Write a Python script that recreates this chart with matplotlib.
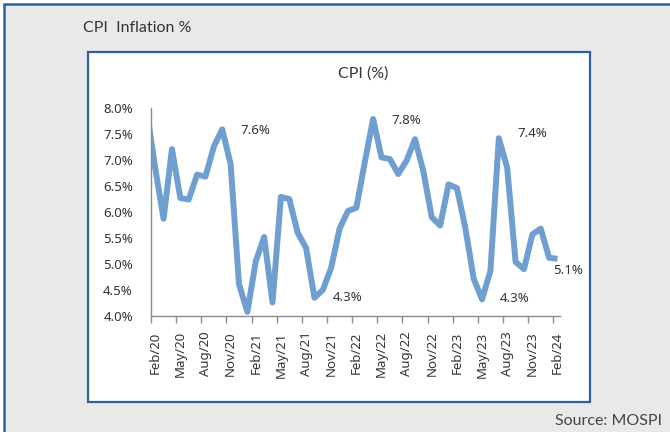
import matplotlib
matplotlib.use("Agg")
import matplotlib.pyplot as plt
from matplotlib.patches import Rectangle

# monthly CPI inflation (%), Jan/20 .. Feb/24 (Jan/20 sits just left of the axis and is clipped)
months = ["Jan/20", "Feb/20", "Mar/20", "Apr/20", "May/20", "Jun/20", "Jul/20", "Aug/20", "Sep/20", "Oct/20",
          "Nov/20", "Dec/20", "Jan/21", "Feb/21", "Mar/21", "Apr/21", "May/21", "Jun/21", "Jul/21", "Aug/21",
          "Sep/21", "Oct/21", "Nov/21", "Dec/21", "Jan/22", "Feb/22", "Mar/22", "Apr/22", "May/22", "Jun/22",
          "Jul/22", "Aug/22", "Sep/22", "Oct/22", "Nov/22", "Dec/22", "Jan/23", "Feb/23", "Mar/23", "Apr/23",
          "May/23", "Jun/23", "Jul/23", "Aug/23", "Sep/23", "Oct/23", "Nov/23", "Dec/23", "Jan/24", "Feb/24"]
cpi = [7.95, 6.85, 5.87, 7.21, 6.27, 6.24, 6.72, 6.68, 7.26, 7.59,
       6.92, 4.61, 4.08, 5.05, 5.52, 4.26, 6.29, 6.25, 5.60, 5.31,
       4.35, 4.50, 4.93, 5.68, 6.02, 6.08, 6.95, 7.79, 7.05, 7.02,
       6.73, 6.99, 7.40, 6.78, 5.90, 5.74, 6.53, 6.46, 5.70, 4.72,
       4.32, 4.87, 7.42, 6.85, 5.04, 4.90, 5.57, 5.68, 5.12, 5.10]
tick_labels = ["Feb/20", "May/20", "Aug/20", "Nov/20", "Feb/21", "May/21", "Aug/21", "Nov/21", "Feb/22",
               "May/22", "Aug/22", "Nov/22", "Feb/23", "May/23", "Aug/23", "Nov/23", "Feb/24"]
y_ticks = [4.0, 4.5, 5.0, 5.5, 6.0, 6.5, 7.0, 7.5, 8.0]
# labelled points and where their text goes (pixel offsets)
callouts = [("Oct/20", 33, -1), ("Sep/21", 33, 0), ("Apr/22", 33, -2),
            ("May/23", 33, 1), ("Jul/23", 33, 5), ("Feb/24", 11, -12)]

LINE = "#6f9fd0"
BORDER = "#2d619e"
TXT = "#333333"

fig = plt.figure(figsize=(6.7, 4.32), dpi=100, facecolor="white")

# outer grey panel, border only shows on top and left
fig.add_artist(Rectangle((4 / 670, -0.5), 2.0, 1.5 - 4 / 432, transform=fig.transFigure,
                         facecolor="#e9e9e9", edgecolor=BORDER, lw=1.8, clip_on=False, zorder=-3))
# inner white chart box
fig.add_artist(Rectangle((88 / 670, 1 - 401.7 / 432), (590 - 88) / 670, (401.7 - 51.5) / 432,
                         transform=fig.transFigure, facecolor="white", edgecolor=BORDER, lw=1.6,
                         zorder=-2))

fig.text(83 / 670, 1 - 28.5 / 432, "CPI  Inflation %", fontsize=11.5, family="Lato",
         color=TXT, ha="left", va="center")
fig.text(362.7 / 670, 1 - 73.5 / 432, "CPI (%)", fontsize=11.5, family="Lato",
         color=TXT, ha="center", va="center")
fig.text(662 / 670, 1 - 421 / 432, "Source: MOSPI", fontsize=11.5, family="Lato",
         color="#444444", ha="right", va="center")

ax = fig.add_axes([151 / 670, 1 - 316 / 432, 409 / 670, 208 / 432])
ax.set_facecolor("none")
x = list(range(len(months)))
ax.plot(x, cpi, color=LINE, lw=4.3, solid_joinstyle="round", solid_capstyle="butt")

ax.set_xlim(0.5, 49.3)
ax.set_ylim(4.0, 8.0)
ax.set_yticks(y_ticks)
ax.set_yticklabels([f"{v:.1f}%" for v in y_ticks])
ax.set_xticks([months.index(m) for m in tick_labels])
ax.set_xticklabels(tick_labels, rotation=90)
ax.set_xticks([i + 0.5 for i in range(0, 49, 3)], minor=True)

for s in ["top", "right"]:
    ax.spines[s].set_visible(False)
for s in ["left", "bottom"]:
    ax.spines[s].set_color("#8c8c8c")
    ax.spines[s].set_linewidth(1.0)

ax.tick_params(axis="x", which="major", length=0, pad=11, labelsize=9.5, labelcolor=TXT)
ax.tick_params(axis="x", which="minor", length=5, width=1.0, color="#8c8c8c", direction="out")
ax.tick_params(axis="y", length=0, pad=13, labelsize=9.5, labelcolor=TXT)
for lab in ax.get_xticklabels() + ax.get_yticklabels():
    lab.set_family("Noto Sans")

for m, dx, dy in callouts:
    i = months.index(m)
    ax.annotate(f"{cpi[i]:.1f}%", xy=(i, cpi[i]), xytext=(dx, dy), textcoords="offset pixels",
                ha="center", va="center", fontsize=9.5, family="Noto Sans", color=TXT,
                annotation_clip=False)

fig.savefig("out.png", dpi=100, facecolor=fig.get_facecolor())
